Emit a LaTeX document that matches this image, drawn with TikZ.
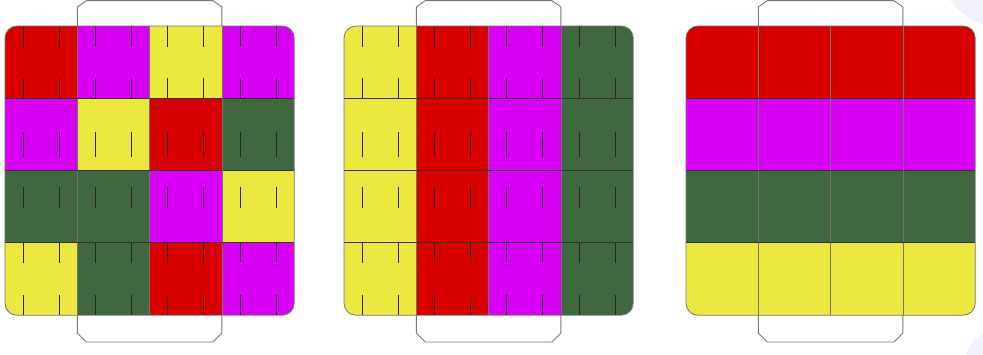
\documentclass[tikz,border=0pt]{standalone}
\definecolor{cR}{RGB}{217,0,0}
\definecolor{cM}{RGB}{216,0,245}
\definecolor{cY}{RGB}{237,232,64}
\definecolor{cG}{RGB}{63,104,63}
\definecolor{bandline}{RGB}{120,120,120}
\definecolor{blobc}{RGB}{241,241,251}
\tikzset{
  bandshape/.style={draw=bandline, fill=white, line width=0.9},
  gridline/.style={draw=black!80, line width=0.9},
  vgridline/.style={draw=black!55, line width=0.8},
  outerline/.style={draw=black!55, line width=0.8, rounded corners=12},
  tickline/.style={draw=black!85, line width=0.9},
}
\newcommand\bandat[1]{%
  \path[bandshape] ({#1+72.3},7) -- ({#1+81.3},0.6) -- ({#1+207.9},0.6) -- ({#1+216.9},7)
     -- ({#1+216.9},333) -- ({#1+207.9},342) -- ({#1+81.3},342) -- ({#1+72.3},333) -- cycle;}
\newcommand\cellsat[2]{%
  \begin{scope}
    \clip[rounded corners=12] (#1,26) rectangle ({#1+289.2},315.2);
    \foreach \rr/\cl in {#2} {
      \foreach \cc [count=\i from 0] in \cl {
        \fill[\cc] ({#1+\i*72.3},{26+\rr*72.3}) rectangle ({#1+(\i+1)*72.3},{26+(\rr+1)*72.3});
      }
    }
  \end{scope}
  \foreach \k in {1,2,3} {
    \draw[vgridline] ({#1+\k*72.3},26) -- ({#1+\k*72.3},315.2);
    \draw[gridline] (#1,{26+\k*72.3}) -- ({#1+289.2},{26+\k*72.3});
  }}
\newcommand\ticksat[1]{%
  \foreach \col in {0,1,2,3} {
    \foreach \f in {0.25,0.75} {
      \foreach \ya/\yb in {26/46.7, 78.3/98.3, 131.7/156.7, 186.7/208.3, 242.7/263.3, 295/315.2} {
        \draw[tickline] ({#1+(\col+\f)*72.3},\ya) -- ({#1+(\col+\f)*72.3},\yb);
      }
    }
  }}
\newcommand\borderat[1]{\draw[outerline] (#1,26) rectangle ({#1+289.2},315.2);}
\begin{document}
\begin{tikzpicture}[x=1pt,y=-1pt]
  \useasboundingbox (0,0) rectangle (983,354);
  \clip (0,0) rectangle (983,354);
  \fill[white] (0,0) rectangle (983,354);
  % faint background blobs
  \fill[blobc] (1010,-45) circle (75);
  \fill[blobc] (995,362) circle (30);
  % grid 1
  \bandat{5}
  \cellsat{5}{0/{cR,cM,cY,cM}, 1/{cM,cY,cR,cG}, 2/{cG,cG,cM,cY}, 3/{cY,cG,cR,cM}}
  \ticksat{5}
  \borderat{5}
  % grid 2
  \bandat{344}
  \cellsat{344}{0/{cY,cR,cM,cG}, 1/{cY,cR,cM,cG}, 2/{cY,cR,cM,cG}, 3/{cY,cR,cM,cG}}
  \ticksat{344}
  \borderat{344}
  % grid 3
  \bandat{686}
  \cellsat{686}{0/{cR,cR,cR,cR}, 1/{cM,cM,cM,cM}, 2/{cG,cG,cG,cG}, 3/{cY,cY,cY,cY}}
  \borderat{686}
\end{tikzpicture}
\end{document}
